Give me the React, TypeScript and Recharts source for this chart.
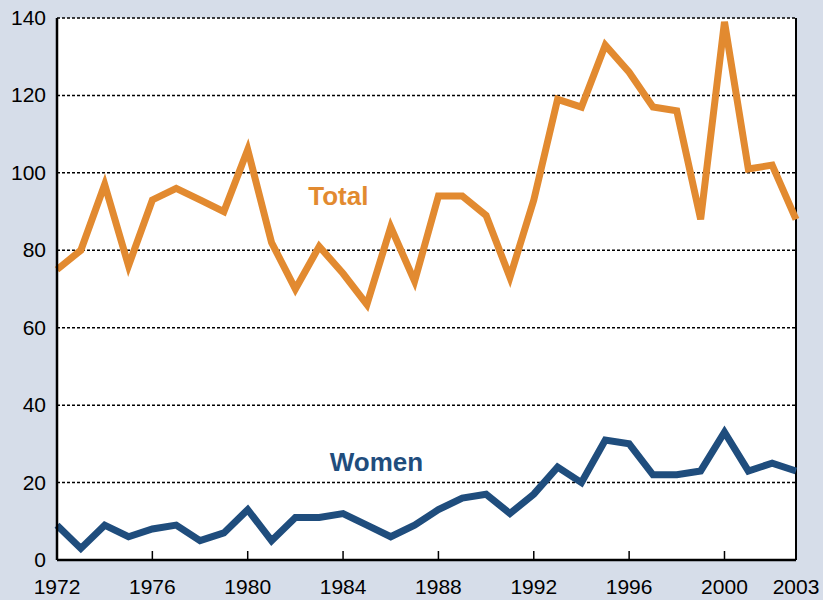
import { LineChart, Line, XAxis, YAxis, CartesianGrid, ReferenceLine, ReferenceDot } from "recharts";

const years = [
  1972, 1973, 1974, 1975, 1976, 1977, 1978, 1979, 1980, 1981, 1982, 1983, 1984, 1985, 1986, 1987,
  1988, 1989, 1990, 1991, 1992, 1993, 1994, 1995, 1996, 1997, 1998, 1999, 2000, 2001, 2002, 2003,
];
const total = [
  75, 80, 97, 76, 93, 96, 93, 90, 106, 82, 70, 81, 74, 66, 86, 72,
  94, 94, 89, 73, 93, 119, 117, 133, 126, 117, 116, 88, 139, 101, 102, 88,
];
const women = [
  9, 3, 9, 6, 8, 9, 5, 7, 13, 5, 11, 11, 12, 9, 6, 9,
  13, 16, 17, 12, 17, 24, 20, 31, 30, 22, 22, 23, 33, 23, 25, 23,
];
const xTicks = [1972, 1976, 1980, 1984, 1988, 1992, 1996, 2000, 2003];
const yTicks = [0, 20, 40, 60, 80, 100, 120, 140];

const data = years.map((year, i) => ({ year, total: total[i], women: women[i] }));

const ORANGE = "#e28a30";
const NAVY = "#1f4d7d";
const BG = "#d6dde9";
const FONT = "'Liberation Sans', Arial, sans-serif";

function XTick({ x, y, payload }: any) {
  const edge = payload.value === 1972 || payload.value === 2003;
  return (
    <g>
      {!edge && <line x1={x} x2={x} y1={y} y2={y - 9} stroke="#000" strokeWidth={1.5} />}
      <text x={x} y={y + 34} textAnchor="middle" fontSize={21} fill="#000" fontFamily={FONT}>
        {payload.value}
      </text>
    </g>
  );
}

function YTick({ x, y, payload }: any) {
  return (
    <text x={x - 11} y={y + 7} textAnchor="end" fontSize={21} fill="#000" fontFamily={FONT}>
      {payload.value}
    </text>
  );
}

function SeriesLabel(text: string, color: string) {
  return ({ viewBox }: any) => (
    <text
      x={viewBox.cx ?? viewBox.x}
      y={(viewBox.cy ?? viewBox.y) + 9}
      textAnchor="middle"
      fontSize={26}
      fontWeight="bold"
      fill={color}
      fontFamily={FONT}
    >
      {text}
    </text>
  );
}

export default function App() {
  return (
    <div style={{ position: "absolute", left: 0, top: 0, width: 823, height: 600, background: BG }}>
      <LineChart width={823} height={600} data={data} margin={{ top: 18, right: 27, left: 0, bottom: 0 }}>
        <CartesianGrid vertical={false} fill="#fff" stroke="#000" strokeWidth={1.5} strokeDasharray="3 2" />
        <XAxis
          dataKey="year"
          type="number"
          domain={[1972, 2003]}
          ticks={xTicks}
          interval={0}
          height={40}
          tickSize={0}
          tickMargin={0}
          tickLine={false}
          axisLine={{ stroke: "#000", strokeWidth: 2.5 }}
          tick={<XTick />}
        />
        <YAxis
          type="number"
          domain={[0, 140]}
          ticks={yTicks}
          interval={0}
          width={57}
          tickSize={0}
          tickMargin={0}
          tickLine={false}
          axisLine={{ stroke: "#000", strokeWidth: 2.5 }}
          tick={<YTick />}
        />
        <ReferenceLine x={2003} stroke="#000" strokeWidth={2} ifOverflow="visible" />
        <Line dataKey="total" stroke={ORANGE} strokeWidth={7} dot={false} isAnimationActive={false} strokeLinejoin="miter" />
        <Line dataKey="women" stroke={NAVY} strokeWidth={7} dot={false} isAnimationActive={false} strokeLinejoin="miter" />
        <ReferenceDot x={1983.8} y={94} r={0} stroke="none" fill="none" label={SeriesLabel("Total", ORANGE)} />
        <ReferenceDot x={1985.4} y={25.3} r={0} stroke="none" fill="none" label={SeriesLabel("Women", NAVY)} />
      </LineChart>
    </div>
  );
}
